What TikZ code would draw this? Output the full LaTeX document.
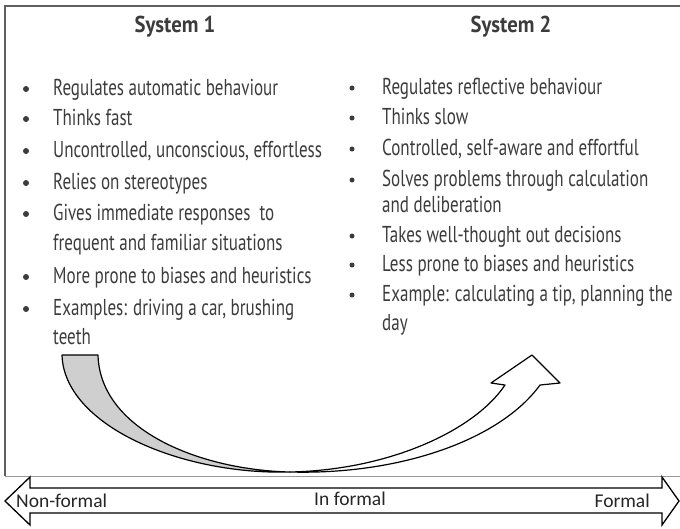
\documentclass[tikz,border=0pt]{standalone}
\usepackage{fontspec}
\setmainfont{PT Sans}[FakeStretch=0.74]
\newfontfamily\headfont{PT Sans}[FakeStretch=0.9]
\newfontfamily\labfont{Carlito}
\usepackage{xcolor}
\usepackage{tikz}
\usetikzlibrary{positioning}

\definecolor{txtgray}{HTML}{3C3C3C}
\definecolor{framegray}{HTML}{606060}
\definecolor{tailgray}{HTML}{CFCFCF}

\begin{document}
\begin{tikzpicture}[
    x=1pt, y=-1pt,
    head/.style={anchor=base, inner sep=0pt, text=txtgray,
                 font=\headfont\fontsize{23}{26}\selectfont\bfseries},
    txt/.style={anchor=base west, inner sep=0pt, text=txtgray,
                font=\fontsize{23}{29}\selectfont},
    bul/.style={circle, fill=txtgray, inner sep=0pt, minimum size=6pt},
    scalelab/.style={anchor=base, inner sep=0pt, text=black!85,
                  font=\labfont\fontsize{19.5}{22}\selectfont},
    band/.style={draw=black, line width=1.2pt, line join=round},
]
    \useasboundingbox (0,0) rectangle (680,528);

    % frame
    \draw[framegray, line width=1.3pt] (681,6) -- (5,6) -- (5,476);
    \draw[black!40, line width=1pt] (5,476) -- (681,476);

    % headings
    \node[head] (sys1) at (175,32) {System 1};
    \node[head] (sys2) at (511,32) {System 2};

    % System 1
    \node[bul] (b11) at (26,89) {};
    \node[txt] (a1) at (53,95) {Regulates automatic behaviour};
    \node[bul] (b12) at (26,119) {};
    \node[txt] (a2) at (53,125) {Thinks fast};
    \node[bul] (b13) at (26,151) {};
    \node[txt] (a3) at (53,157) {Uncontrolled, unconscious, effortless};
    \node[bul] (b14) at (26,183) {};
    \node[txt] (a4) at (53,189) {Relies on stereotypes};
    \node[bul] (b15) at (26,214) {};
    \node[txt] (a5) at (53,220) {Gives immediate responses\ \ to};
    \node[txt] (a5b) at (53,250) {frequent and familiar situations};
    \node[bul] (b16) at (26,277) {};
    \node[txt] (a6) at (53,283) {More prone to biases and heuristics};
    \node[bul] (b17) at (26,309) {};
    \node[txt] (a7) at (53,315) {Examples: driving a car, brushing};
    \node[txt] (a7b) at (53,344) {teeth};

    % System 2
    \node[bul, minimum size=5pt] (b21) at (352,88) {};
    \node[txt] (c1) at (382,94) {Regulates reflective behaviour};
    \node[bul, minimum size=5pt] (b22) at (352,118) {};
    \node[txt] (c2) at (382,124) {Thinks slow};
    \node[bul, minimum size=5pt] (b23) at (352,149) {};
    \node[txt] (c3) at (382,155) {Controlled, self-aware and effortful};
    \node[bul, minimum size=5pt] (b24) at (352,180) {};
    \node[txt] (c4) at (382,186) {Solves problems through calculation};
    \node[txt] (c4b) at (382,212) {and deliberation};
    \node[bul, minimum size=5pt] (b25) at (352,236) {};
    \node[txt] (c5) at (382,242) {Takes well-thought out decisions};
    \node[bul, minimum size=5pt] (b26) at (352,265) {};
    \node[txt] (c6) at (382,271) {Less prone to biases and heuristics};
    \node[bul, minimum size=5pt] (b27) at (352,295) {};
    \node[txt] (c7) at (382,301) {Example: calculating a tip, planning the};
    \node[txt] (c7b) at (382,330) {day};

    % curved arrow, back side
    \draw[band, fill=tailgray] (62,355) -- (98,355)
        .. controls (100,430) and (200,470) .. (290,472)
        .. controls (180,475) and (64,425) .. cycle;
    % curved arrow, front side with head
    \draw[band, fill=white] (290,472)
        .. controls (400,475) and (500,440) .. (540,385)
        -- (560,383) -- (532,355) -- (491,383) -- (505,385)
        .. controls (475,430) and (390,470) .. cycle;

    % scale arrow
    \draw[line width=1.3pt, fill=white, line join=miter]
        (5,501) -- (30,477) -- (30,488) -- (662,488) -- (662,477)
        -- (679,501) -- (662,525) -- (662,513) -- (30,513) -- (30,525) -- cycle;
    \node[scalelab, anchor=base west] (nonf) at (16,507) {Non-formal};
    \node[scalelab] (inf) at (350,505) {In formal};
    \node[scalelab, anchor=base east] (form) at (650,507) {Formal};
\end{tikzpicture}
\end{document}
